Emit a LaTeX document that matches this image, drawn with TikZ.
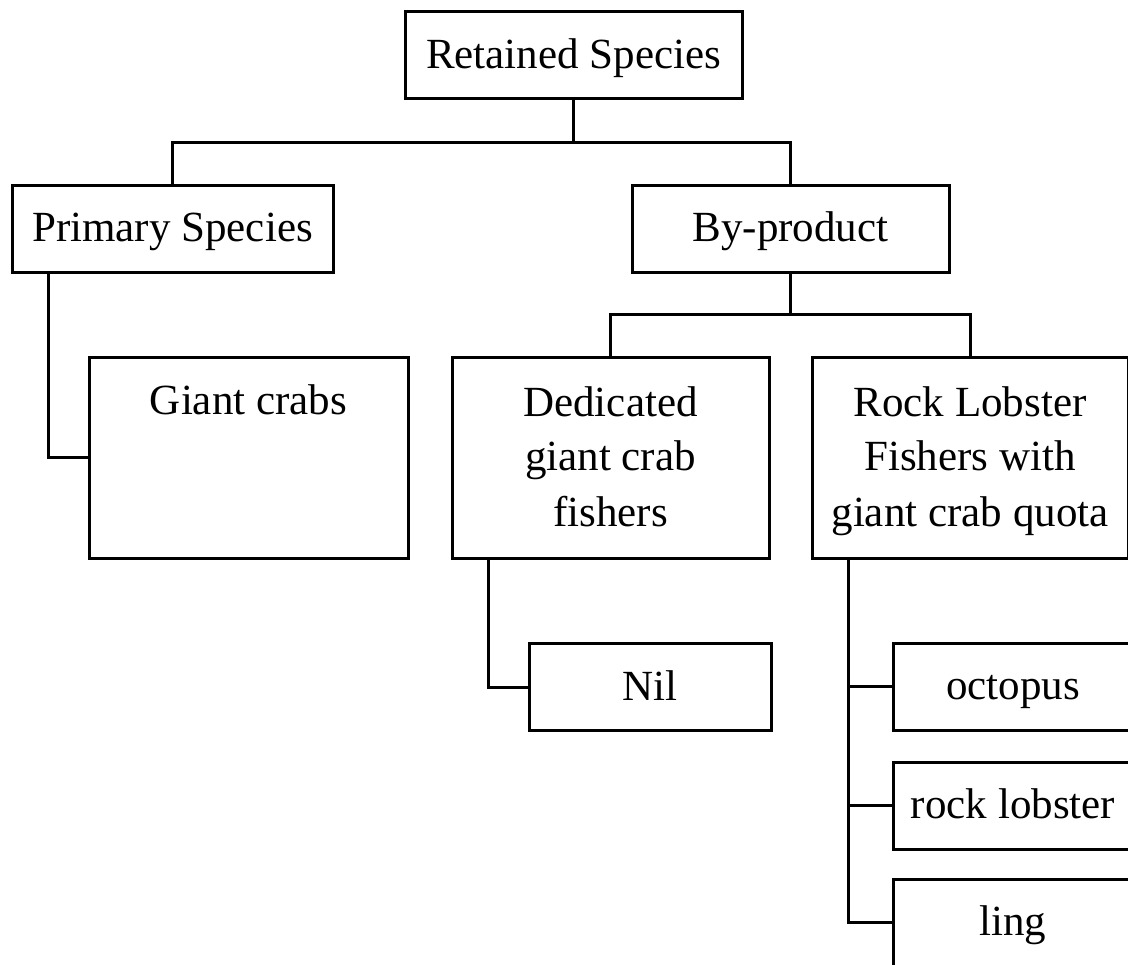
\documentclass[tikz,border=0pt]{standalone}
\usepackage{fontspec}
\setmainfont{Liberation Serif}
\usetikzlibrary{positioning}

\begin{document}
\begin{tikzpicture}[
  x=1pt, y=-1pt,
  font=\fontsize{43pt}{55pt}\selectfont,
  box/.style={draw=black, line width=3pt, fill=white, align=center,
              inner sep=0pt, minimum height=87pt, text height=32pt, text depth=6pt},
  tall/.style={box, minimum height=200pt, text height=142pt},
  ln/.style={draw=black, line width=3pt}
]
\useasboundingbox (0,0) rectangle (1128,965);

% ---- top
\node[box, minimum width=337pt] (ret) at (573.5,55.5) {Retained Species};

% ---- level 1
\node[box, minimum width=321pt] (prim) at (172.5,229) {Primary Species};
\node[box, minimum width=317pt] (byp)  at (790.5,229) {By-product};
\coordinate (rj) at (573.5,143);
\draw[ln] (ret.south) -- (rj) -| (prim.north);
\draw[ln] (rj) -| (byp.north);

% ---- level 2
\node[tall, minimum width=319pt, text height=30pt, text depth=116pt, inner ysep=27pt]
  (giant) at (248.5,458) {Giant crabs};
\node[tall, minimum width=317pt] (ded)  at (610.5,458) {Dedicated\\giant crab\\fishers};
\node[tall, minimum width=316pt] (rock) at (970,458) {Rock Lobster\\Fishers with\\giant crab quota};
\coordinate (bj) at (790.5,315);
\draw[ln] (byp.south) -- (bj) -| (ded.north);
\draw[ln] (bj) -| (rock.north);
\draw[ln] ([xshift=38pt]prim.south west) |- (giant.west);

% ---- level 3
\node[box, minimum width=242pt] (nil)  at (650,687)    {Nil};
\node[box, minimum width=240pt] (oct)  at (1013,686.5) {octopus};
\node[box, minimum width=240pt] (rlob) at (1013,805.5) {rock lobster};
\node[box, minimum width=240pt] (ling) at (1013,922.5) {ling};
\draw[ln] ([xshift=38pt]ded.south west) |- (nil.west);
\foreach \s in {oct,rlob,ling}{\draw[ln] ([xshift=38pt]rock.south west) |- (\s.west);}
\end{tikzpicture}
\end{document}
